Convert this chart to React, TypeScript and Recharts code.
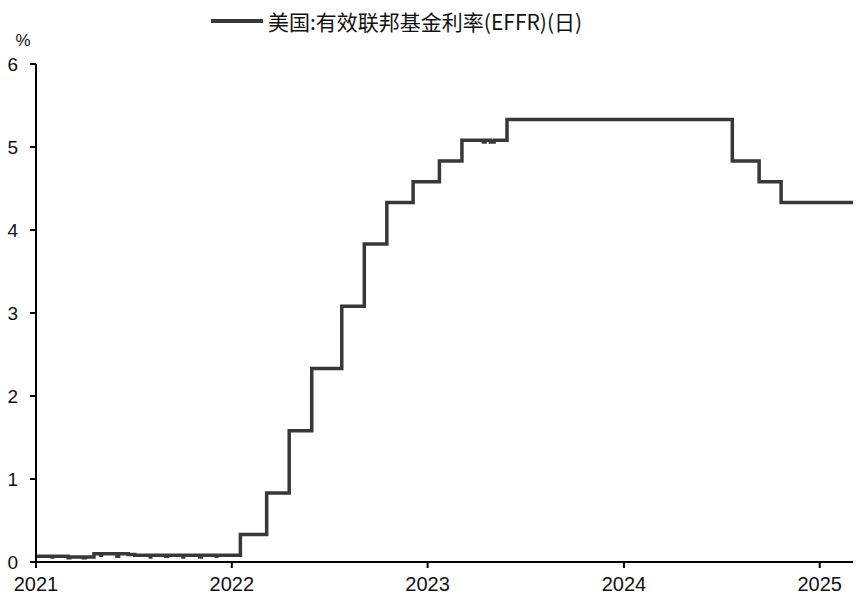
import React from 'react';
import { LineChart, Line, XAxis, YAxis, Legend } from 'recharts';

// EFFR daily (step changes only), percent
const dates: string[] = [
  '2021-03-01', '2021-03-31', '2021-04-01', '2021-04-30', '2021-05-03', '2021-05-28', '2021-06-01',
  '2021-06-17', '2021-06-30', '2021-07-01', '2021-07-30', '2021-08-02', '2021-08-20', '2021-09-01',
  '2021-09-30', '2021-10-01', '2021-10-29', '2021-11-01', '2021-11-30', '2021-12-01', '2021-12-31',
  '2022-01-03', '2022-01-31', '2022-02-01', '2022-03-17', '2022-05-05', '2022-06-16', '2022-07-28',
  '2022-09-22', '2022-11-03', '2022-12-15', '2023-02-02', '2023-03-23', '2023-05-04', '2023-06-13',
  '2023-06-16', '2023-06-26', '2023-07-03', '2023-07-27', '2024-09-19', '2024-11-08', '2024-12-19',
  '2025-05-02',
];
const values: number[] = [
  0.07, 0.06, 0.07, 0.05, 0.06, 0.05, 0.06,
  0.10, 0.08, 0.10, 0.07, 0.10, 0.09, 0.08,
  0.06, 0.08, 0.07, 0.08, 0.06, 0.08, 0.06,
  0.08, 0.07, 0.08, 0.33, 0.83, 1.58, 2.33,
  3.08, 3.83, 4.33, 4.58, 4.83, 5.08, 5.06,
  5.08, 5.06, 5.08, 5.33, 4.83, 4.58, 4.33,
  4.33,
];

const tickDates: string[] = ['2021-03-01', '2022-03-01', '2023-03-01', '2024-03-01', '2025-03-01'];
const tickLabels: string[] = ['2021', '2022', '2023', '2024', '2025'];
const yTicks: number[] = [0, 1, 2, 3, 4, 5, 6];
const seriesName = '美国:有效联邦基金利率(EFFR)(日)';
const domainEnd = '2025-05-02';

const ts = (d: string) => {
  const [y, m, dd] = d.split('-').map(Number);
  return Date.UTC(y, m - 1, dd);
};

const data = dates.map((d, i) => ({ t: ts(d), v: values[i] }));
const tickTs = tickDates.map(ts);

const LINE_COLOR = '#383838';

const LegendContent = () => (
  <div style={{ display: 'flex', alignItems: 'center', height: 29, fontFamily: '"Noto Sans CJK SC", sans-serif', fontSize: 21, color: '#111', whiteSpace: 'nowrap' }}>
    <svg width={52} height={6} style={{ marginRight: 5 }}>
      <line x1={0} y1={3} x2={52} y2={3} stroke={LINE_COLOR} strokeWidth={4} />
    </svg>
    <span>{seriesName}</span>
  </div>
);

export default function App() {
  return (
    <div style={{ position: 'absolute', left: 0, top: 0, width: 862, height: 603, background: '#fff' }}>
      <LineChart width={862} height={603} data={data} margin={{ top: 35, right: 9, bottom: 0, left: 0 }}>
        <Legend verticalAlign="top" align="left" content={<LegendContent />} wrapperStyle={{ top: 6, left: 211, width: 'auto', height: 29 }} />
        <XAxis
          dataKey="t"
          type="number"
          domain={[ts(dates[0]), ts(domainEnd)]}
          ticks={tickTs}
          tickFormatter={(v: number) => tickLabels[tickTs.indexOf(v)] ?? ''}
          height={41}
          tickSize={6}
          tickMargin={9}
          axisLine={{ stroke: '#000', strokeWidth: 2 }}
          tickLine={{ stroke: '#000', strokeWidth: 2 }}
          tick={{ fill: '#111', fontSize: 20, fontFamily: '"Liberation Sans", Arial, sans-serif' }}
          allowDataOverflow
        />
        <YAxis
          type="number"
          domain={[0, 6]}
          ticks={yTicks}
          width={36}
          tickSize={6}
          tickMargin={12}
          axisLine={{ stroke: '#000', strokeWidth: 2 }}
          tickLine={{ stroke: '#000', strokeWidth: 2 }}
          tick={{ fill: '#111', fontSize: 19, fontFamily: '"Liberation Sans", Arial, sans-serif' }}
          label={{ value: '%', position: 'top', offset: 18, dx: 5, fill: '#111', fontSize: 17, fontFamily: '"Liberation Sans", Arial, sans-serif' }}
        />
        <Line
          dataKey="v"
          type="stepAfter"
          stroke={LINE_COLOR}
          strokeWidth={3.5}
          dot={false}
          activeDot={false}
          isAnimationActive={false}
          name={seriesName}
        />
      </LineChart>
    </div>
  );
}
